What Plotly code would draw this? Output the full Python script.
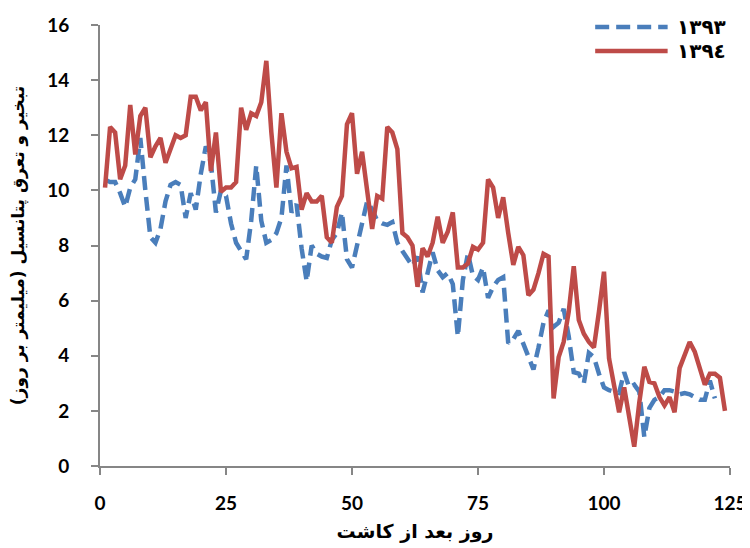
import plotly.graph_objects as go

days_1393 = list(range(1, 123))
et_1393 = [10.4, 10.3, 10.3, 9.9, 9.4, 10.1, 10.4, 11.9, 10.0, 8.3,
           8.1, 8.6, 9.6, 10.2, 10.3, 10.2, 9.0, 9.9, 9.3, 10.6,
           11.6, 11.0, 9.2, 10.0, 9.8, 8.8, 8.1, 7.8, 7.5, 8.9,
           10.9, 8.9, 8.1, 8.2, 8.45, 9.0, 10.9, 9.2, 9.5, 7.9,
           6.7, 8.0, 7.7, 7.6, 7.55, 8.2, 8.45, 9.2, 7.5, 7.2,
           7.95, 8.85, 9.6, 9.3, 8.9, 8.8, 8.75, 8.85, 8.1, 7.8,
           7.5, 7.25, 7.6, 6.3, 7.0, 7.75, 7.1, 6.85, 7.0, 6.6,
           4.7, 6.75, 7.7, 6.9, 6.75, 7.2, 6.1, 6.5, 6.75, 6.85,
           4.45, 4.6, 4.9, 4.4, 4.0, 3.5, 4.3, 5.2, 5.65, 5.05,
           5.2, 5.7, 4.7, 3.4, 3.35, 3.0, 4.1, 3.95, 3.35, 2.85,
           2.75, 2.7, 2.65, 3.4, 2.85, 2.95, 2.7, 1.05, 2.1, 2.4,
           2.5, 2.75, 2.75, 2.7, 2.6, 2.65, 2.6, 2.5, 2.4, 2.4,
           3.1, 2.45]

days_1394 = list(range(1, 125))
et_1394 = [10.1, 12.3, 12.1, 10.4, 10.9, 13.1, 11.3, 12.7, 13.0, 11.2,
           11.6, 11.9, 11.0, 11.5, 12.0, 11.9, 12.0, 13.4, 13.4, 12.9,
           13.2, 10.7, 12.1, 9.95, 10.1, 10.1, 10.3, 13.0, 12.2, 12.8,
           12.7, 13.2, 14.7, 12.1, 10.1, 12.8, 11.4, 10.8, 10.85, 9.3,
           9.9, 9.6, 9.6, 9.8, 8.3, 8.1, 9.4, 9.8, 12.4, 12.8,
           10.6, 11.4, 9.9, 8.6, 9.8, 9.7, 12.3, 12.1, 11.5, 8.45,
           8.3, 8.0, 6.5, 7.9, 7.6, 8.1, 9.05, 8.1, 8.5, 9.2,
           7.2, 7.2, 7.35, 7.95, 7.85, 8.1, 10.4, 10.1, 9.0, 9.75,
           8.45, 7.3, 7.95, 7.65, 6.2, 6.4, 7.0, 7.7, 7.6, 2.45,
           3.95, 4.5, 5.6, 7.25, 5.3, 4.8, 4.5, 4.3, 5.6, 7.05,
           3.9, 3.0, 1.95, 2.85, 1.7, 0.7, 2.3, 3.6, 3.05, 3.0,
           2.5, 2.2, 2.5, 1.95, 3.55, 4.0, 4.5, 4.15, 3.55, 2.95,
           3.35, 3.35, 3.2, 2.0]

name_1393 = "١٣٩٣"
name_1394 = "١٣٩٤"
x_title = "روز بعد از کاشت"
y_title = "تبخیر و تعرق پتانسیل (میلیمتر بر روز)"
x_ticks = [0, 25, 50, 75, 100, 125]
y_ticks = [0, 2, 4, 6, 8, 10, 12, 14, 16]

color_1393 = "#4A7EBB"
color_1394 = "#BE4B48"
dash_1393 = "14px,7px"
num_font = "Lato, Carlito, Calibri, 'Open Sans', sans-serif"
ar_font = "'DejaVu Sans', 'Noto Sans', sans-serif"

fig = go.Figure()
fig.add_trace(go.Scatter(x=days_1393, y=et_1393, mode="lines", name=name_1393,
                         line=dict(color=color_1393, width=4.5, dash=dash_1393)))
fig.add_trace(go.Scatter(x=days_1394, y=et_1394, mode="lines", name=name_1394,
                         line=dict(color=color_1394, width=4.5)))

# legend drawn manually (longer sample lines like the reference)
legend_items = [(name_1393, color_1393, dash_1393, 0.9955),
                (name_1394, color_1394, "solid", 0.941)]
for label, col, dsh, yy in legend_items:
    fig.add_shape(type="line", xref="paper", yref="paper",
                  x0=0.786, x1=0.901, y0=yy, y1=yy,
                  line=dict(color=col, width=4.5, dash=dsh))
    fig.add_annotation(xref="paper", yref="paper", x=0.912, y=yy,
                       xanchor="left", yanchor="middle", text="<b>" + label + "</b>",
                       showarrow=False, font=dict(size=20, color="black", family=ar_font))

# the page body adds an 8px offset, so the figure is 8px smaller on each axis
fig.update_layout(
    width=742, height=540,
    margin=dict(l=92, r=20, t=17, b=82, autoexpand=False),
    paper_bgcolor="white", plot_bgcolor="white",
    font=dict(family=num_font, size=18, color="black"),
    showlegend=False,
    xaxis=dict(range=[0, 125], tickvals=x_ticks, ticks="outside", ticklen=7,
               tickwidth=1.5, tickcolor="#868686", showline=True, linecolor="#868686",
               linewidth=2, showgrid=False, zeroline=False, automargin=False,
               ticklabelstandoff=12,
               tickfont=dict(size=19, family=num_font, weight="bold"),
               title=dict(text="<b>" + x_title + "</b>",
                          font=dict(size=19, family=ar_font), standoff=12)),
    yaxis=dict(range=[0, 16], tickvals=y_ticks, ticks="outside", ticklen=7,
               tickwidth=1.5, tickcolor="#868686", showline=True, linecolor="#868686",
               linewidth=2, showgrid=False, zeroline=False, automargin=False,
               ticklabelstandoff=18,
               tickfont=dict(size=19, family=num_font, weight="bold"),
               title=dict(text="<b>" + y_title + "</b>",
                          font=dict(size=17, family=ar_font), standoff=18)),
)

fig.write_html("out.html")
